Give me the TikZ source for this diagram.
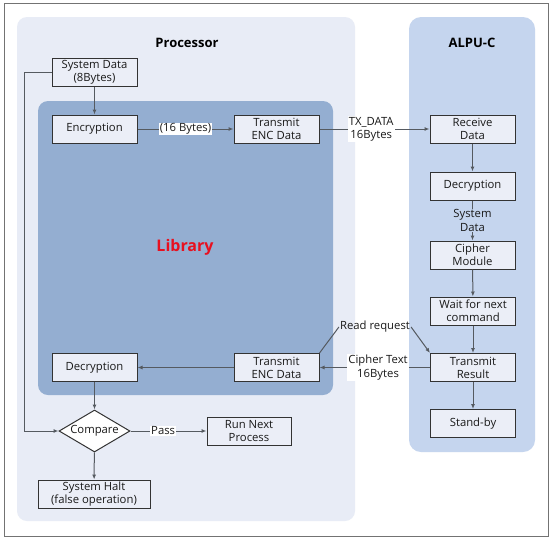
\documentclass[tikz,border=0pt]{standalone}
\usepackage{fontspec}
\setmainfont{Open Sans}
\usetikzlibrary{shapes.geometric,arrows.meta}
\definecolor{procbg}{HTML}{E8ECF6}
\definecolor{alpubg}{HTML}{C5D5EE}
\definecolor{libbg}{HTML}{94AED1}
\definecolor{boxbg}{HTML}{EBEEF7}
\definecolor{linec}{HTML}{555A60}
\definecolor{libred}{HTML}{E8101F}
\begin{document}
\begin{tikzpicture}[x=1pt,y=-1pt,
  stepbox/.style={draw=black!80,line width=1pt,fill=boxbg,minimum width=85pt,minimum height=28pt,inner sep=0.5pt,align=center,font=\fontsize{11.3}{13.2}\selectfont,text=black!90},
  lbl/.style={font=\fontsize{11.3}{13.2}\selectfont,align=center,inner sep=1pt,text=black!90},
  conn/.style={draw=linec,line width=1pt},
  arr/.style={conn,-{Latex[length=5pt,width=4pt]}},
  title/.style={font=\fontsize{13}{15}\selectfont\bfseries,text=black}]
\useasboundingbox (0,0) rectangle (553,539);
\fill[white] (0,0) rectangle (553,539);
\draw[black!55,line width=1pt] (4,3) rectangle (548,536);
% panels
\fill[procbg,rounded corners=10pt] (17,17) rectangle (355,521);
\fill[alpubg,rounded corners=12pt] (409,17) rectangle (535,452);
\fill[libbg,rounded corners=10pt] (38,101) rectangle (333,395);
\node[title] (ptitle) at (187,43) {Processor};
\node[title] (atitle) at (472,43) {ALPU-C};
\node[font=\fontsize{16}{18}\selectfont\bfseries,text=libred] (libt) at (185,247) {Library};
% boxes
\node[stepbox] (sysd) at (94.5,72.5) {System Data\\(8Bytes)};
\node[stepbox] (enc) at (94.5,129) {Encryption};
\node[stepbox] (txt) at (276.5,129) {Transmit\\ENC Data};
\node[stepbox] (recv) at (472.5,129) {Receive\\Data};
\node[stepbox] (deca) at (472.5,186) {Decryption};
\node[stepbox] (ciph) at (472.5,255) {Cipher\\Module};
\node[stepbox] (wait) at (473,311) {Wait for next\\command};
\node[stepbox] (txr) at (473,367.5) {Transmit\\Result};
\node[stepbox] (stby) at (473,423.5) {Stand-by};
\node[stepbox] (txb) at (276.5,367.5) {Transmit\\ENC Data};
\node[stepbox] (decl) at (94.5,367.5) {Decryption};
\node[draw=black!80,line width=1pt,fill=white,diamond,aspect=1.7,minimum width=71pt,minimum height=42pt,inner sep=0pt,font=\fontsize{11.3}{13.2}\selectfont,text=black!90] (cmp) at (94.5,431) {Compare};
\node[stepbox,minimum width=84pt] (run) at (249,431) {Run Next\\Process};
\node[stepbox,minimum width=112pt] (halt) at (94,494) {System Halt\\(false operation)};
% connectors
\draw[arr] (sysd) -- (enc);
\draw[arr] (enc) -- node[lbl,fill=white] (l16) {(16 Bytes)} (txt);
\draw[arr] (txt) -- node[lbl,fill=white,pos=0.47] (ltx) {TX\_DATA\\16Bytes} (recv);
\draw[arr] (recv) -- (deca);
\draw[arr] (deca) -- node[lbl,fill=alpubg] (lsd) {System\\Data} (ciph);
\draw[arr] (ciph) -- (wait);
\draw[arr] (wait) -- (txr);
\draw[arr] (txr) -- (stby);
\draw[arr] (txr) -- node[lbl,fill=white,pos=0.47] (lct) {Cipher Text\\16Bytes} (txb);
\node[lbl] (lrr) at (375,327) {Read request};
\draw[conn] (txb.north east) -- (lrr.west);
\draw[arr] (lrr.east) -- (txr.north west);
\draw[arr] (txb) -- (decl);
\draw[arr] (decl) -- (cmp);
\draw[arr] (cmp) -- node[lbl,fill=white,pos=0.43] (lpass) {Pass} (run);
\draw[arr] (cmp) -- (halt);
\coordinate (c1) at (24,72.5);
\coordinate (c2) at (24,431);
\draw[arr] (sysd.west) -- (c1) -- (c2) -- (cmp.west);
\end{tikzpicture}
\end{document}
